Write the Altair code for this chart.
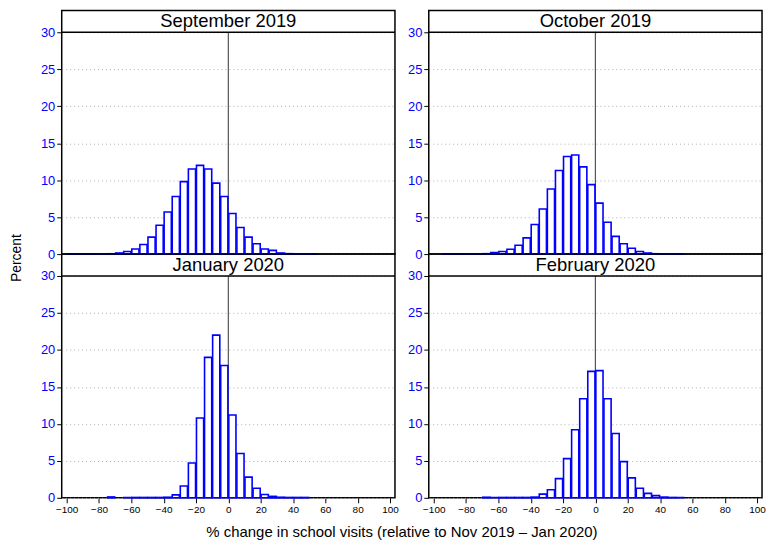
import altair as alt
import pandas as pd

BLUE = "#0000FF"
BLACK = "#000000"
GRID = "#B0B0B0"
FONT = "Liberation Sans"

# left edge of each 5-point bin, -100 .. 50
BIN_STARTS = [-100, -95, -90, -85, -80, -75, -70, -65, -60, -55, -50,
              -45, -40, -35, -30, -25, -20, -15, -10, -5, 0,
              5, 10, 15, 20, 25, 30, 35, 40, 45, 50]
BIN_WIDTH = 5

PANELS = ["September 2019", "October 2019", "January 2020", "February 2020"]
PANEL_ROW = [0, 0, 1, 1]
PANEL_COL = [0, 1, 0, 1]

# percent of schools in each bin
SEP_2019 = [0.03, 0.03, 0.03, 0.03, 0.04, 0.05, 0.15, 0.35, 0.7, 1.3, 2.3,
            3.9, 5.7, 7.8, 9.8, 11.5, 12.0, 11.5, 9.6, 7.8, 5.5,
            3.6, 2.3, 1.4, 0.7, 0.5, 0.15, 0.06, 0.04, 0.03, 0.03]
OCT_2019 = [0, 0.03, 0.03, 0.03, 0.03, 0.04, 0.06, 0.2, 0.35, 0.65, 1.2,
            2.2, 4.0, 6.1, 8.8, 11.3, 13.2, 13.4, 11.8, 9.4, 6.9,
            4.3, 2.4, 1.4, 0.8, 0.35, 0.15, 0.05, 0.04, 0.03, 0.03]
JAN_2020 = [0, 0, 0, 0, 0, 0.12, 0, 0.05, 0.05, 0.05, 0.05,
            0.05, 0.08, 0.4, 1.6, 4.7, 10.8, 19.0, 22.0, 17.9, 11.2,
            6.0, 2.8, 1.3, 0.45, 0.2, 0.08, 0.05, 0.05, 0.05, 0]
FEB_2020 = [0, 0, 0, 0, 0, 0, 0.08, 0.05, 0.05, 0.05, 0.05,
            0.05, 0.1, 0.5, 1.1, 2.6, 5.3, 9.2, 13.4, 17.1, 17.2,
            13.4, 8.7, 4.9, 2.7, 1.3, 0.6, 0.3, 0.1, 0.05, 0.04]

X_TICKS = [-100, -80, -60, -40, -20, 0, 20, 40, 60, 80, 100]
Y_TICKS = [0, 5, 10, 15, 20, 25, 30]
Y_TOP = 30
STRIP_TOP = 32.96   # room for the panel strip above 30
STRIP_MID = 31.48

rows = []
for name, r, c, values in zip(PANELS, PANEL_ROW, PANEL_COL,
                              [SEP_2019, OCT_2019, JAN_2020, FEB_2020]):
    rows.append({"kind": "label", "panel": name, "r": r, "c": c})
    for start, pct in zip(BIN_STARTS, values):
        if pct > 0:
            rows.append({"kind": "bar", "panel": name, "r": r, "c": c,
                         "start": start, "pct": pct})
df = pd.DataFrame(rows)

x_scale = alt.Scale(domain=[-100, 100], nice=False)
y_scale = alt.Scale(domain=[0, STRIP_TOP], nice=False)
# tickCount must not be below the number of values, or vega thins them out
x_axis = alt.Axis(
    values=X_TICKS,
    tickCount=len(X_TICKS),
    format="d",
    grid=False,
    labelOverlap=False,
    labelFlush=False,
)

zero_line = (
    alt.Chart()
    .transform_filter(alt.datum.kind == "label")
    .mark_rule(color="#555555", strokeWidth=1.2)
    .encode(
        x=alt.X(datum=0, scale=x_scale, axis=x_axis, title=None),
        y=alt.datum(0),
        y2=alt.datum(Y_TOP),
    )
)

bars = (
    alt.Chart()
    .transform_filter(alt.datum.kind == "bar")
    .transform_calculate(mid=f"datum.start + {BIN_WIDTH / 2}")
    .mark_bar(fill="white", stroke=BLUE, strokeWidth=1.6, width=7.2)
    .encode(
        x=alt.X("mid:Q", scale=x_scale, title=None, axis=x_axis),
        y=alt.Y(
            "pct:Q",
            scale=y_scale,
            title=None,
            axis=alt.Axis(
                values=Y_TICKS,
                tickCount=len(Y_TICKS),
                labelColor=BLUE,
                labelFontSize=13,
                labelOverlap=False,
                grid=True,
                gridDash=[1, 3],
                gridColor=GRID,
            ),
        ),
    )
)

strip_rule = (
    alt.Chart()
    .transform_filter(alt.datum.kind == "label")
    .mark_rule(color=BLACK, strokeWidth=1.5)
    .encode(y=alt.datum(Y_TOP))
)

strip_text = (
    alt.Chart()
    .transform_filter(alt.datum.kind == "label")
    .mark_text(font=FONT, fontSize=18.5, color=BLACK, baseline="middle")
    .encode(x=alt.datum(0), y=alt.datum(STRIP_MID), text="panel:N")
)

chart = (
    alt.layer(zero_line, bars, strip_rule, strip_text, data=df)
    .properties(width=335, height=245)
    .facet(
        row=alt.Row(
            "r:O",
            header=alt.Header(
                labels=False,
                title="Percent",
                titleFont=FONT,
                titleFontSize=14,
                titleFontWeight="normal",
                titleColor=BLACK,
                titlePadding=28,
            ),
        ),
        column=alt.Column(
            "c:O",
            header=alt.Header(
                labels=False,
                orient="bottom",
                title="% change in school visits (relative to Nov 2019 \u2013 Jan 2020)",
                titleFont=FONT,
                titleFontSize=15,
                titleFontWeight="normal",
                titleColor=BLACK,
                titlePadding=0,
            ),
        ),
        spacing={"row": 0, "column": 34},
    )
    .resolve_axis(y="independent")
    .properties(
        padding={"left": 2, "top": 0, "right": 0, "bottom": 0},
        bounds="flush",
    )
    .configure_view(stroke=BLACK, strokeWidth=1.5)
    .configure_axis(
        labelFont=FONT,
        labelColor=BLACK,
        labelFontSize=10,
        domain=False,
        tickColor=BLACK,
        tickSize=5,
        labelPadding=2,
    )
)

chart.save("out.html", embed_options={"renderer": "svg", "actions": False})
